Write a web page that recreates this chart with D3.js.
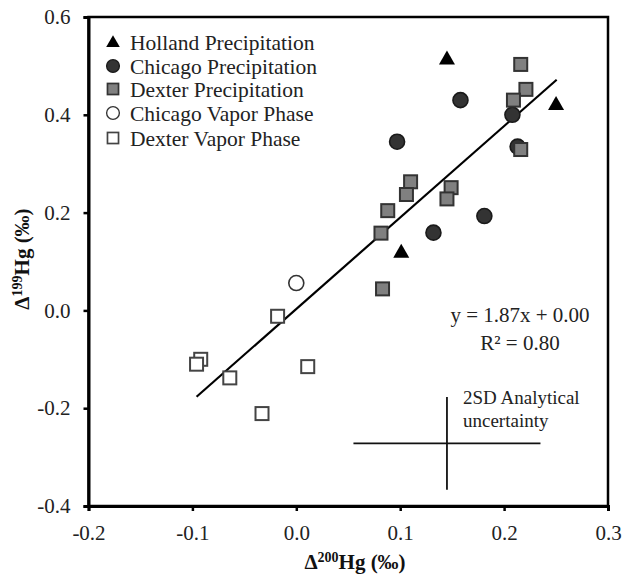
<!DOCTYPE html>
<html>
<head>
<meta charset="utf-8">
<script src="https://cdn.jsdelivr.net/npm/d3@7"></script>
<style>
  html, body { margin: 0; padding: 0; background: #fff; }
  svg { display: block; font-family: "Liberation Serif", "Times New Roman", serif; }
</style>
</head>
<body>
<svg id="chart" width="623" height="575"></svg>
<script>
// ---- data ----
const hollandPrecip = [[0.145, 0.515], [0.250, 0.422], [0.101, 0.120]];
const chicagoPrecip = [[0.158, 0.430], [0.097, 0.345], [0.208, 0.400], [0.213, 0.335], [0.132, 0.159], [0.181, 0.193]];
const dexterPrecip = [[0.216, 0.503], [0.221, 0.452], [0.209, 0.430], [0.216, 0.329], [0.110, 0.263], [0.106, 0.237],
                      [0.088, 0.204], [0.0815, 0.158], [0.083, 0.044], [0.149, 0.251], [0.145, 0.228]];
const chicagoVapor = [[0.000, 0.056]];
const dexterVapor = [[-0.018, -0.012], [-0.092, -0.100], [-0.096, -0.110], [-0.064, -0.138], [0.011, -0.115], [-0.033, -0.211]];
const xTicks = [-0.2, -0.1, 0.0, 0.1, 0.2, 0.3];
const yTicks = [-0.4, -0.2, 0.0, 0.2, 0.4, 0.6];
const fitSlope = 1.87, fitIntercept = 0.003, fitRange = [-0.096, 0.2506];
const errCenter = [0.145, -0.272], errX = 0.09, errY = 0.095;
const legendLabels = ["Holland Precipitation", "Chicago Precipitation", "Dexter Precipitation", "Chicago Vapor Phase", "Dexter Vapor Phase"];

// ---- layout ----
const svg = d3.select("#chart");
const L = 88.5, R = 608, T = 17, B = 506;
const x = d3.scaleLinear().domain([-0.2, 0.3]).range([L, R]);
const y = d3.scaleLinear().domain([-0.4, 0.6]).range([B, T]);
const FONT = 21;

// frame
svg.append("rect").attr("x", L).attr("y", T).attr("width", R - L).attr("height", B - T)
  .attr("fill", "none").attr("stroke", "#000").attr("stroke-width", 2.5);

// axes
const xAxis = svg.append("g").attr("transform", `translate(0,${B})`)
  .call(d3.axisBottom(x).tickValues(xTicks).tickFormat(d3.format(".1f")).tickSizeOuter(0).tickSize(5).tickPadding(14));
const yAxis = svg.append("g").attr("transform", `translate(${L},0)`)
  .call(d3.axisLeft(y).tickValues(yTicks).tickFormat(d3.format(".1f")).tickSizeOuter(0).tickSize(5).tickPadding(13));
[xAxis, yAxis].forEach(g => {
  g.select(".domain").attr("stroke-width", 3).attr("stroke", "#000");
  g.selectAll(".tick line").attr("stroke-width", 2.5).attr("stroke", "#000");
  g.selectAll(".tick text").attr("font-family", "Liberation Serif, serif").attr("font-size", FONT).attr("fill", "#222");
});
xAxis.selectAll(".tick text").text(d => d3.format(".1f")(d).replace("−", "-"));
yAxis.selectAll(".tick text").text(d => d3.format(".1f")(d).replace("−", "-"));

// axis titles
const xt = svg.append("text").attr("x", 355).attr("y", 569).attr("text-anchor", "middle")
  .attr("font-size", FONT).attr("font-weight", "bold").attr("fill", "#111");
xt.append("tspan").text("Δ");
xt.append("tspan").text("200").attr("font-size", 14).attr("dy", -7);
xt.append("tspan").text("Hg (‰)").attr("dy", 7);

const yt = svg.append("text").attr("transform", "translate(29,259) rotate(-90)").attr("text-anchor", "middle")
  .attr("font-size", FONT).attr("font-weight", "bold").attr("fill", "#111");
yt.append("tspan").text("Δ");
yt.append("tspan").text("199").attr("font-size", 14).attr("dy", -7);
yt.append("tspan").text("Hg (‰)").attr("dy", 7);

// regression line
svg.append("line")
  .attr("x1", x(fitRange[0])).attr("y1", y(fitSlope * fitRange[0] + fitIntercept))
  .attr("x2", x(fitRange[1])).attr("y2", y(fitSlope * fitRange[1] + fitIntercept))
  .attr("stroke", "#000").attr("stroke-width", 2.2);

// error cross
svg.append("line").attr("x1", x(errCenter[0] - errX)).attr("x2", x(errCenter[0] + errX))
  .attr("y1", y(errCenter[1])).attr("y2", y(errCenter[1])).attr("stroke", "#111").attr("stroke-width", 1.8);
svg.append("line").attr("x1", x(errCenter[0])).attr("x2", x(errCenter[0]))
  .attr("y1", y(errCenter[1] - errY)).attr("y2", y(errCenter[1] + errY)).attr("stroke", "#111").attr("stroke-width", 1.8);
svg.append("text").attr("x", 463).attr("y", 404).attr("font-size", 19).attr("fill", "#222").text("2SD Analytical");
svg.append("text").attr("x", 463).attr("y", 427).attr("font-size", 19).attr("fill", "#222").text("uncertainty");

// equation
svg.append("text").attr("x", 520).attr("y", 322).attr("text-anchor", "middle").attr("font-size", FONT).attr("fill", "#222")
  .text("y = 1.87x + 0.00");
svg.append("text").attr("x", 520).attr("y", 350).attr("text-anchor", "middle").attr("font-size", FONT).attr("fill", "#222")
  .text("R² = 0.80");

// marker drawers
const S = 13;
function square(g, fill, stroke) {
  g.append("rect").attr("x", -S / 2).attr("y", -S / 2).attr("width", S).attr("height", S)
    .attr("fill", fill).attr("stroke", stroke).attr("stroke-width", 2);
}
function circle(g, fill, stroke) {
  g.append("circle").attr("r", 7.5).attr("fill", fill).attr("stroke", stroke).attr("stroke-width", 1.6);
}
function triangle(g) {
  g.append("path").attr("d", "M0,-8 L8,6 L-8,6 Z").attr("fill", "#000");
}
const styles = [
  g => triangle(g),
  g => circle(g, "#333", "#1a1a1a"),
  g => square(g, "#808080", "#333"),
  g => circle(g, "#fff", "#333"),
  g => square(g, "#fff", "#444")
];
function plot(data, style) {
  svg.append("g").selectAll("g").data(data).join("g")
    .attr("transform", d => `translate(${x(d[0])},${y(d[1])})`)
    .each(function () { style(d3.select(this)); });
}
plot(dexterVapor, styles[4]);
plot(chicagoVapor, styles[3]);
plot(chicagoPrecip, styles[1]);
plot(dexterPrecip, styles[2]);
plot(hollandPrecip, styles[0]);

// legend
const legY = [42, 66, 89, 113, 138];
legendLabels.forEach((lab, i) => {
  const g = svg.append("g").attr("transform", `translate(113,${legY[i]})`);
  const m = g.append("g").attr("transform", "scale(0.85)");
  styles[i](m);
  g.append("text").attr("x", 17).attr("y", 0).attr("dy", "0.35em").attr("font-size", 21.5).attr("fill", "#222").text(lab);
});
</script>
</body>
</html>
